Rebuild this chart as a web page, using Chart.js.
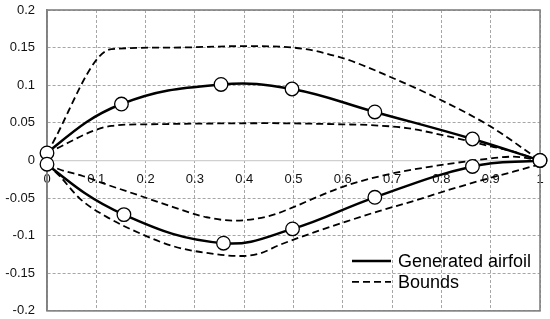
<!DOCTYPE html>
<html>
<head>
<title>Generated airfoil</title>
<script src="https://cdn.jsdelivr.net/npm/chart.js@4/dist/chart.umd.min.js"></script>
<style>
  body { margin: 0; background: #fff; }
  #wrap { width: 550px; height: 319px; }
</style>
</head>
<body>
<div id="wrap"><canvas id="airfoil"></canvas></div>
<script>
// generated airfoil, trailing edge -> top -> nose -> bottom -> trailing edge
var airfoilX = [1, 0.863, 0.665, 0.497, 0.353, 0.151, 0, 0, 0.156, 0.358, 0.498, 0.665, 0.863, 1];
var airfoilY = [0, 0.0285, 0.0645, 0.095, 0.101, 0.075, 0.01, -0.005, -0.072, -0.11, -0.091, -0.049, -0.008, 0];

// bounds (4 dashed curves)
var upperOuterX = [0, 0.131, 0.25, 0.4, 0.5, 0.6, 0.7, 0.8, 0.9, 1];
var upperOuterY = [0.01, 0.148, 0.150, 0.152, 0.150, 0.136, 0.110, 0.080, 0.045, 0];
var upperInnerX = [0, 0.131, 0.2, 0.45, 0.6, 0.655, 0.73, 0.8, 0.885, 0.95, 1];
var upperInnerY = [0.01, 0.046, 0.048, 0.0495, 0.048, 0.047, 0.043, 0.034, 0.021, 0.011, 0];
var lowerInnerX = [0, 0.026, 0.074, 0.121, 0.189, 0.256, 0.324, 0.38, 0.45, 0.5, 0.55, 0.6, 0.675, 0.743, 0.811, 0.878, 0.946, 1];
var lowerInnerY = [-0.005, -0.012, -0.021, -0.032, -0.047, -0.062, -0.0755, -0.080, -0.074, -0.062, -0.048, -0.035, -0.021, -0.012, -0.005, 0.001, 0.005, 0];
var lowerOuterX = [0, 0.026, 0.067, 0.121, 0.189, 0.256, 0.324, 0.391, 0.43, 0.473, 0.54, 0.608, 0.675, 0.743, 0.811, 0.878, 0.946, 1];
var lowerOuterY = [-0.005, -0.021, -0.051, -0.075, -0.097, -0.114, -0.123, -0.127, -0.124, -0.112, -0.096, -0.081, -0.067, -0.054, -0.040, -0.027, -0.015, -0.005];

var xTicks = [0, 0.1, 0.2, 0.3, 0.4, 0.5, 0.6, 0.7, 0.8, 0.9, 1];
var xTickLabels = ['0', '0.1', '0.2', '0.3', '0.4', '0.5', '0.6', '0.7', '0.8', '0.9', '1'];
var yTicks = [-0.2, -0.15, -0.1, -0.05, 0, 0.05, 0.1, 0.15, 0.2];
var yTickLabels = ['-0.2', '-0.15', '-0.1', '-0.05', '0', '0.05', '0.1', '0.15', '0.2'];

function pts(xs, ys) {
  return xs.map(function (x, i) { return { x: x, y: ys[i] }; });
}

function boundSet(xs, ys, label) {
  return {
    label: label,
    data: pts(xs, ys),
    showLine: true,
    borderColor: '#000',
    borderWidth: 1.8,
    borderDash: [7, 4],
    cubicInterpolationMode: 'monotone',
    pointRadius: 0,
    fill: false,
    clip: false,
    order: 1
  };
}

Chart.defaults.font.family = '"Liberation Sans", Arial, sans-serif';
Chart.defaults.font.size = 13;
Chart.defaults.color = '#111';

// frame round the plot area
var framePlugin = {
  id: 'frame',
  beforeDatasetsDraw: function (chart) {
    var a = chart.chartArea, c = chart.ctx;
    c.save();
    c.strokeStyle = '#808080';
    c.lineWidth = 1.6;
    c.strokeRect(a.left, a.top, a.right - a.left, a.bottom - a.top);
    c.restore();
  }
};

// legend sits inside the plot, bottom right, no box
var legendPlugin = {
  id: 'innerLegend',
  afterDatasetsDraw: function (chart) {
    var a = chart.chartArea, c = chart.ctx;
    var seen = {}, items = [];
    chart.data.datasets.forEach(function (d) {
      if (!seen[d.label]) { seen[d.label] = 1; items.push(d); }
    });
    var x0 = a.right - 188, y0 = a.bottom - 50;
    c.save();
    c.font = '18px "Liberation Sans", Arial, sans-serif';
    c.fillStyle = '#000';
    c.textBaseline = 'middle';
    items.forEach(function (d, i) {
      var y = y0 + i * 21;
      c.strokeStyle = '#000';
      c.lineWidth = d.borderDash ? 1.8 : 2.5;
      c.setLineDash(d.borderDash || []);
      c.beginPath();
      c.moveTo(x0, y);
      c.lineTo(x0 + 39, y);
      c.stroke();
      c.setLineDash([]);
      c.fillText(d.label, x0 + 46, y + 1);
    });
    c.restore();
  }
};

new Chart(document.getElementById('airfoil'), {
  type: 'scatter',
  data: {
    datasets: [
      {
        label: 'Generated airfoil',
        data: pts(airfoilX, airfoilY),
        showLine: true,
        borderColor: '#000',
        borderWidth: 2.5,
        tension: 0.4,
        pointRadius: 6.8,
        pointBackgroundColor: '#fff',
        pointBorderColor: '#000',
        pointBorderWidth: 1.3,
        fill: false,
        clip: false,
        order: 0
      },
      boundSet(upperOuterX, upperOuterY, 'Bounds'),
      boundSet(upperInnerX, upperInnerY, 'Bounds'),
      boundSet(lowerInnerX, lowerInnerY, 'Bounds'),
      boundSet(lowerOuterX, lowerOuterY, 'Bounds')
    ]
  },
  options: {
    responsive: true,
    maintainAspectRatio: false,
    animation: false,
    layout: { padding: { top: 10, right: 10, bottom: 6, left: 0 } },
    plugins: { legend: { display: false }, tooltip: { enabled: false } },
    scales: {
      x: {
        type: 'linear',
        position: { y: 0 },
        min: 0,
        max: 1,
        afterBuildTicks: function (s) { s.ticks = xTicks.map(function (v) { return { value: v }; }); },
        ticks: {
          padding: 0,
          maxRotation: 0,
          autoSkip: false,
          callback: function (v, i) { return xTickLabels[i]; }
        },
        grid: { color: '#a6a6a6', lineWidth: 1, drawTicks: true, tickLength: 11, tickColor: 'rgba(0,0,0,0)' },
        border: { display: true, color: '#d0d0d0', width: 1.2, dash: [3, 2] }
      },
      y: {
        type: 'linear',
        min: -0.2,
        max: 0.2,
        afterBuildTicks: function (s) { s.ticks = yTicks.map(function (v) { return { value: v }; }); },
        afterFit: function (s) { s.width = 47; },
        ticks: {
          padding: 0,
          autoSkip: false,
          callback: function (v, i) { return yTickLabels[i]; }
        },
        grid: {
          color: function (ctx) { return ctx.tick && ctx.tick.value === 0 ? 'rgba(0,0,0,0)' : '#a6a6a6'; },
          lineWidth: 1,
          drawTicks: true,
          tickLength: 12,
          tickColor: 'rgba(0,0,0,0)'
        },
        border: { display: true, color: '#808080', width: 1.6, dash: [3, 2] }
      }
    }
  },
  plugins: [framePlugin, legendPlugin]
});
</script>
</body>
</html>
